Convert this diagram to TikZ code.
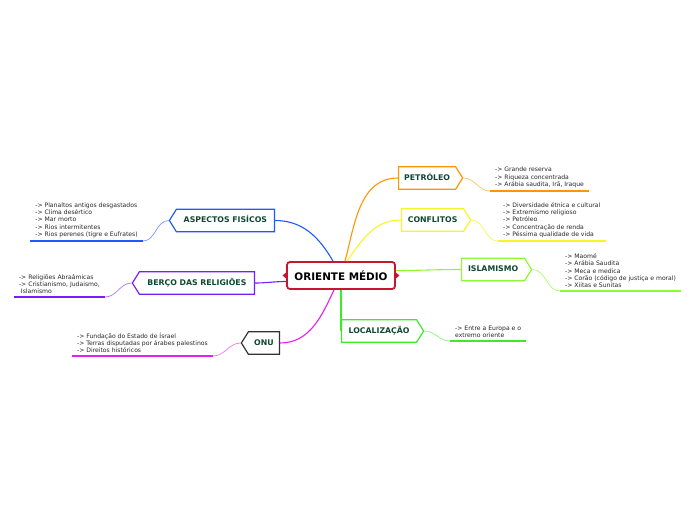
\documentclass[tikz,border=0pt]{standalone}
\usepackage{fontspec}
\setmainfont{DejaVu Sans}
\usetikzlibrary{shapes.symbols}

\definecolor{omRed}{RGB}{200,20,50}
\definecolor{txtGreen}{RGB}{15,72,50}
\definecolor{aspBlue}{RGB}{30,90,250}
\definecolor{berPurple}{RGB}{120,30,250}
\definecolor{onuMag}{RGB}{230,30,240}
\definecolor{petOrange}{RGB}{255,150,0}
\definecolor{conYellow}{RGB}{245,245,40}
\definecolor{islGreen}{RGB}{140,250,50}
\definecolor{locGreen}{RGB}{60,235,40}

\begin{document}
\begin{tikzpicture}[x=1pt, y=1pt,
  centro/.style={draw=omRed, fill=white, line width=1.8pt, rounded corners=3pt,
    minimum width=108pt, minimum height=27pt, inner sep=0pt,
    font=\fontsize{10.4}{12}\selectfont\bfseries},
  ramo/.style={signal, draw, fill=white, line width=1.2pt, text=txtGreen,
    font=\fontsize{7.8}{9}\selectfont\bfseries, align=center,
    inner xsep=0pt, inner ysep=7.5pt, text height=6pt, text depth=1.5pt,
    signal pointer angle=116},
  nota/.style={font=\fontsize{6.1}{7.3}\selectfont, text=black!85, align=left,
    inner xsep=5pt, inner ysep=3pt},
  liga/.style={line width=1.1pt},
  fio/.style={line width=0.7pt},
  sub/.style={line width=1.8pt}]

  \useasboundingbox (0,0) rectangle (696,-520);

  % -- Central topic --
  \node[centro] (om) at (341,-275.5) {ORIENTE MÉDIO};
  \fill[omRed] (om.west) ++(0,3) -- ++(-3.5,-3) -- ++(3.5,-3) -- cycle;
  \fill[omRed] (om.east) ++(0,3) -- ++(3.5,-3) -- ++(-3.5,-3) -- cycle;

  % -- Left branches --
  \node[ramo, draw=aspBlue, signal to=west, text width=98pt, anchor=east] (asp) at (275,-220.5) {ASPECTOS FISÍCOS};
  \node[ramo, draw=berPurple, signal to=west, text width=115pt, anchor=east] (ber) at (255,-283) {BERÇO DAS RELIGIÕES};
  \node[ramo, draw=black!80, signal to=west, text width=31pt, anchor=east] (onu) at (280,-343) {ONU};

  % -- Right branches --
  \node[ramo, draw=petOrange, signal to=east, text width=57pt, anchor=west] (pet) at (398,-178) {PETRÓLEO};
  \node[ramo, draw=conYellow, signal to=east, text width=62pt, anchor=west] (con) at (401,-220) {CONFLITOS};
  \node[ramo, draw=islGreen, signal to=east, text width=63pt, anchor=west] (isl) at (461,-269.5) {ISLAMISMO};
  \node[ramo, draw=locGreen, signal to=east, text width=75pt, anchor=west] (loc) at (341,-331) {LOCALIZAÇÃO};

  % -- Connectors from the centre --
  \draw[liga, aspBlue] ([xshift=-8pt]om.north) to[out=120, in=0] (asp.east);
  \draw[liga, berPurple] ([yshift=-6pt]om.west) to[out=180, in=0] (ber.east);
  \draw[liga, onuMag] ([xshift=-7pt]om.south) to[out=-115, in=0] (onu.east);
  \draw[liga, petOrange] ([xshift=4pt]om.north) to[out=75, in=180] (pet.west);
  \draw[liga, conYellow] ([xshift=6pt]om.north) to[out=55, in=180] (con.west);
  \draw[liga, islGreen] ([yshift=5pt]om.east) to[out=0, in=180] (isl.west);
  \draw[liga, locGreen] (om.south) -- (om.south |- loc.west);

  % -- Notes --
  \node[nota, anchor=south east] (aspTxt) at (143,-241) {-> Planaltos antigos desgastados\\-> Clima desértico\\-> Mar morto\\-> Rios intermitentes\\-> Rios perenes (tigre e Eufrates)};
  \node[nota, anchor=south east] (berTxt) at (105,-297) {-> Religiões Abraâmicas\\-> Cristianismo, Judaismo,\\\ Islamismo};
  \node[nota, anchor=south east] (onuTxt) at (213,-356) {-> Fundação do Estado de Ísrael\\-> Terras disputadas por árabes palestinos\\-> Direitos históricos};
  \node[nota, anchor=south west] (petTxt) at (490,-191) {-> Grande reserva\\-> Riqueza concentrada\\-> Arábia saudita, Irã, Iraque};
  \node[nota, anchor=south west] (conTxt) at (498,-241) {-> Diversidade étnica e cultural\\-> Extremismo religioso\\-> Petróleo\\-> Concentração de renda\\-> Péssima qualidade de vida};
  \node[nota, anchor=south west] (islTxt) at (560,-291) {-> Maomé\\-> Arábia Saudita\\-> Meca e medica\\-> Corão (código de justiça e moral)\\-> Xiitas e Sunitas};
  \node[nota, anchor=south west] (locTxt) at (450,-341) {-> Entre a Europa e o\\extremo oriente};

  % -- Note links and underlines --
  \draw[fio, aspBlue!60] (asp.west) to[out=180, in=0] (aspTxt.south east);
  \draw[sub, aspBlue] (aspTxt.south west) -- (aspTxt.south east);
  \draw[fio, berPurple!60] (ber.west) to[out=180, in=0] (berTxt.south east);
  \draw[sub, berPurple] (berTxt.south west) -- (berTxt.south east);
  \draw[fio, onuMag!60] (onu.west) to[out=180, in=0] (onuTxt.south east);
  \draw[sub, onuMag] (onuTxt.south west) -- (onuTxt.south east);
  \draw[fio, petOrange!60] (pet.east) to[out=0, in=180] (petTxt.south west);
  \draw[sub, petOrange] (petTxt.south west) -- (petTxt.south east);
  \draw[fio, conYellow!80] (con.east) to[out=0, in=180] (conTxt.south west);
  \draw[sub, conYellow] (conTxt.south west) -- (conTxt.south east);
  \draw[fio, islGreen!70] (isl.east) to[out=0, in=180] (islTxt.south west);
  \draw[sub, islGreen] (islTxt.south west) -- (islTxt.south east);
  \draw[fio, locGreen!60] (loc.east) to[out=0, in=180] (locTxt.south west);
  \draw[sub, locGreen] (locTxt.south west) -- (locTxt.south east);

\end{tikzpicture}
\end{document}
